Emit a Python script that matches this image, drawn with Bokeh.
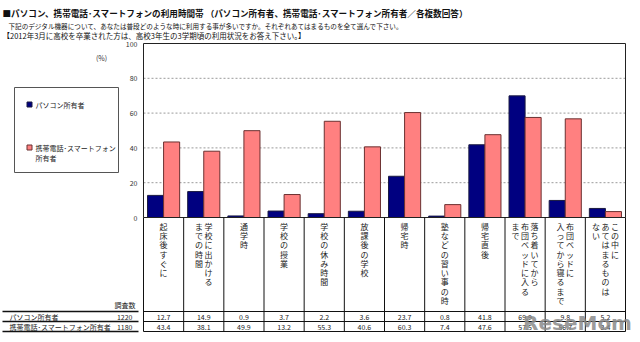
from bokeh.plotting import figure
from bokeh.models import ColumnDataSource, Range1d
from bokeh.transform import dodge
from bokeh.core.properties import value
from bokeh.embed import file_html
from bokeh.resources import INLINE

# ---------------- data ----------------
categories = ["起床後すぐに", "学校に出かけるまでの時間", "通学時", "学校の授業", "学校の休み時間",
              "放課後の学校", "帰宅時", "塾などの習い事の時", "帰宅直後",
              "落ち着いてから布団ベッドに入るまで", "布団ベッドに入ってから寝るまで",
              "この中にあてはまるものはない"]
# vertical label columns (right to left)
category_columns = [["起床後すぐに"], ["学校に出かける", "までの時間"], ["通学時"], ["学校の授業"],
                    ["学校の休み時間"], ["放課後の学校"], ["帰宅時"], ["塾などの習い事の時"], ["帰宅直後"],
                    ["落ち着いてから", "布団ベッドに入る", "まで"], ["布団ベッドに", "入ってから寝るまで"],
                    ["この中に", "あてはまるものは", "ない"]]
series_names = ["パソコン所有者", "携帯電話･スマートフォン所有者"]
sample_sizes = [1220, 1180]
pc_values = [12.7, 14.9, 0.9, 3.7, 2.2, 3.6, 23.7, 0.8, 41.8, 69.9, 9.8, 5.2]
mobile_values = [43.4, 38.1, 49.9, 13.2, 55.3, 40.6, 60.3, 7.4, 47.6, 57.5, 56.7, 3.4]
y_ticks = [0, 20, 40, 60, 80, 100]

# ---------------- layout (pixel geometry) ----------------
W, H = 640, 342
PX0, PX1 = 143, 625          # plot area left/right
PY_TOP, PY0 = 43, 217        # plot area top (100%) and bottom (0%)
n = len(categories)
sx = (PX1 - PX0) / n
sy = (PY0 - PY_TOP) / 100.0

def X(px):
    return (px - PX0) / sx

def Y(py):
    return (PY0 - py) / sy

FONT = value("Noto Sans CJK JP")
PC_COLOR = "#000080"
MO_COLOR = "#FF8080"

p = figure(width=W, height=H, output_backend="svg", toolbar_location=None,
           x_range=Range1d(X(0), X(W)), y_range=Range1d(Y(H), Y(0)),
           x_axis_location=None, y_axis_location=None, min_border=0,
           outline_line_color=None, background_fill_color="white")
p.min_border_left = p.min_border_right = p.min_border_top = p.min_border_bottom = 0
p.grid.visible = False

# grid lines
grid_src = ColumnDataSource(dict(y=[t for t in y_ticks if 0 < t < 100]))
p.segment(x0=0, x1=n, y0="y", y1="y", source=grid_src, line_color="#9a9a9a",
          line_dash="2 2", line_width=1)

# bars
src = ColumnDataSource(dict(x=[i + 0.5 for i in range(n)], pc=pc_values, mo=mobile_values))
p.vbar(x=dodge("x", -0.2, range=p.x_range), top="pc", bottom=0, width=0.4, source=src,
       fill_color=PC_COLOR, line_color="#1a1a40", line_width=1)
p.vbar(x=dodge("x", 0.2, range=p.x_range), top="mo", bottom=0, width=0.4, source=src,
       fill_color=MO_COLOR, line_color="#6b3030", line_width=1)

# plot frame
p.line(x=[0, n, n, 0, 0], y=[0, 0, 100, 100, 0], line_color="#222222", line_width=1)

# y tick labels
tick_src = ColumnDataSource(dict(x=[X(137)] * len(y_ticks), y=y_ticks, t=[str(t) for t in y_ticks]))
p.text(x="x", y="y", text="t", source=tick_src, text_font=FONT, text_font_size="7px",
       text_align="right", text_baseline="middle", text_color="#333333")
p.text(x=[X(101)], y=[Y(57)], text=["(%)"], text_font=FONT, text_font_size="7px",
       text_align="center", text_baseline="middle", text_color="#333333")

# table: vertical separators and horizontal lines
p.segment(x0=list(range(n + 1)), x1=list(range(n + 1)), y0=[0] * (n + 1), y1=[Y(331)] * (n + 1),
          line_color="#111111", line_width=1)
for py in (311, 321, 331):
    p.segment(x0=[0], x1=[n], y0=[Y(py)], y1=[Y(py)], line_color="#111111", line_width=1)
    p.segment(x0=[X(2)], x1=[X(138)], y0=[Y(py)], y1=[Y(py)], line_color="#111111", line_width=1.3)

# category labels (vertical text)
lx, ly, lt = [], [], []
for i, cols in enumerate(category_columns):
    k = len(cols)
    for j, c in enumerate(cols):
        off = ((k - 1) / 2 - j) * (9.5 / sx)
        lx.append(i + 0.5 + off)
        ly.append(Y(220.5))
        lt.append("\n".join(c))
p.text(x=lx, y=ly, text=lt, text_font=FONT, text_font_size="8px", text_align="center",
       text_baseline="top", text_line_height=0.84, text_color="#222222")

# table values
vx = [i + 0.5 for i in range(n)]
p.text(x=vx, y=[Y(316)] * n, text=[f"{v:.1f}" for v in pc_values], text_font=FONT,
       text_font_size="7px", text_align="center", text_baseline="middle", text_color="#222222")
p.text(x=vx, y=[Y(326.5)] * n, text=[f"{v:.1f}" for v in mobile_values], text_font=FONT,
       text_font_size="7px", text_align="center", text_baseline="middle", text_color="#222222")

# row labels
p.text(x=[X(135)], y=[Y(304)], text=["調査数"], text_font=FONT, text_font_size="7px",
       text_align="right", text_baseline="middle", text_color="#222222")
p.text(x=[X(9), X(9)], y=[Y(316), Y(326.5)], text=series_names, text_font=FONT,
       text_font_size="7px", text_align="left", text_baseline="middle", text_color="#222222")
p.text(x=[X(132), X(132)], y=[Y(316), Y(326.5)], text=[str(s) for s in sample_sizes],
       text_font=FONT, text_font_size="7px", text_align="right", text_baseline="middle",
       text_color="#222222")

# legend
p.line(x=[X(14), X(118), X(118), X(14), X(14)], y=[Y(87), Y(87), Y(172), Y(172), Y(87)],
       line_color="#555555", line_width=1)
p.scatter(x=[X(29), X(29)], y=[Y(104), Y(147)], marker="square", size=5,
          fill_color=[PC_COLOR, MO_COLOR], line_color=["#1a1a40", "#6b3030"])
p.text(x=[X(35), X(35)], y=[Y(104), Y(147)], text=["パソコン所有者", "携帯電話･スマートフォン"],
       text_font=FONT, text_font_size="7px", text_align="left", text_baseline="middle",
       text_color="#222222")
p.text(x=[X(35)], y=[Y(157)], text=["所有者"], text_font=FONT, text_font_size="7px",
       text_align="left", text_baseline="middle", text_color="#222222")

# title and notes
p.text(x=[X(2)], y=[Y(12)], text=["■パソコン、携帯電話･スマートフォンの利用時間帯 （パソコン所有者、携帯電話･スマートフォン所有者／各複数回答）"],
       text_font=FONT, text_font_size="8.6px", text_font_style="bold", text_align="left",
       text_baseline="middle", text_color="#111111")
p.text(x=[X(8)], y=[Y(25)],
       text=["下記のデジタル機器について、あなたは普段どのような時に利用する事が多いですか。それぞれあてはまるものを全て選んで下さい。"],
       text_font=FONT, text_font_size="6.6px", text_align="left", text_baseline="middle",
       text_color="#111111")
p.text(x=[X(2)], y=[Y(34.5)],
       text=["【2012年3月に高校を卒業された方は、高校3年生の3学期頃の利用状況をお答え下さい。】"],
       text_font=FONT, text_font_size="7.5px", text_align="left", text_baseline="middle",
       text_color="#111111")

# watermark
p.text(x=[X(577)], y=[Y(322)], text=["ReseMom"], text_font=value("DejaVu Sans"),
       text_font_size="20px", text_font_style="bold", text_align="center",
       text_baseline="middle", text_color="#8a8a8a", text_alpha=0.85)

open("out.html", "w").write(file_html(p, INLINE))
